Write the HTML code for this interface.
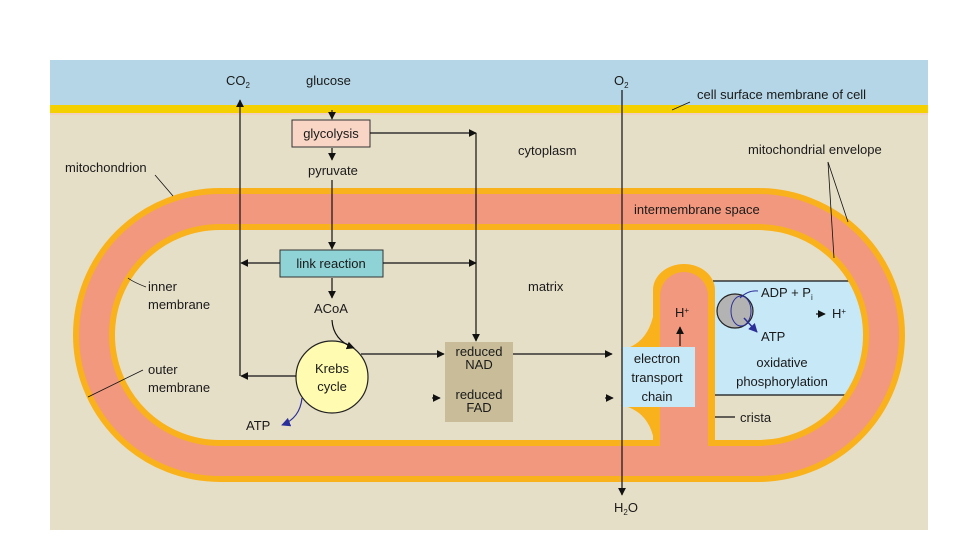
<!DOCTYPE html>
<html><head><meta charset="utf-8"><style>
body{margin:0;background:#fff;}
svg text{font-family:"Liberation Sans",sans-serif;font-size:13px;fill:#1a1a1a;}
</style></head><body>
<svg width="960" height="540" viewBox="0 0 960 540" xmlns="http://www.w3.org/2000/svg">
<defs>
<marker id="a" viewBox="0 0 10 10" refX="9" refY="5" markerWidth="8" markerHeight="8" orient="auto-start-reverse" markerUnits="userSpaceOnUse"><path d="M0,0L10,5L0,10z" fill="#111"/></marker>
<marker id="b" viewBox="0 0 10 10" refX="9" refY="5" markerWidth="9" markerHeight="9" orient="auto" markerUnits="userSpaceOnUse"><path d="M0,0L10,5L0,10z" fill="#2b2f9a"/></marker>
</defs>
<rect x="50" y="60" width="878" height="470" fill="#e6dfc8"/>
<rect x="50" y="60" width="878" height="45" fill="#b4d6e6"/>
<rect x="50" y="105" width="878" height="8" fill="#f5d000"/>
<rect x="50" y="113" width="878" height="2" fill="#f0d0c0"/>
<rect x="713" y="281" width="160" height="114" fill="#c7e8f7"/>
<line x1="713" y1="281" x2="860" y2="281" stroke="#111" stroke-width="1.2"/>
<line x1="713" y1="395" x2="860" y2="395" stroke="#111" stroke-width="1.2"/>
<path d="M220,209 H758 A126,126 0 0 1 758,461 H220 A126,126 0 0 1 220,209 Z" fill="none" stroke="#f9b21c" stroke-width="42"/>
<path d="M220,209 H758 A126,126 0 0 1 758,461 H220 A126,126 0 0 1 220,209 Z" fill="none" stroke="#f2987e" stroke-width="30"/>
<path d="M653,442 V290 A31,26 0 0 1 715,290 V442 Z" fill="#f9b21c"/>
<path d="M620,350 Q648,345 654,312 L690,312 L690,350 Z" fill="#f9b21c"/>
<path d="M620,405 Q648,410 654,440 L690,440 L690,405 Z" fill="#f9b21c"/>
<path d="M660,448 V296 A24,24 0 0 1 708,296 V448 Z" fill="#f2987e"/>
<rect x="622" y="347" width="73" height="60" fill="#c7e8f7"/>
<ellipse cx="735" cy="311" rx="18" ry="17" fill="#b3b3b3" stroke="#222" stroke-width="1.2"/>
<ellipse cx="741" cy="311" rx="10" ry="15" fill="none" stroke="#2b2f9a" stroke-width="1"/>
<path d="M740,298 Q748,290 758,291" fill="none" stroke="#2b2f9a"/>
<path d="M744,318 L757,332" fill="none" stroke="#2b2f9a" stroke-width="1.5" marker-end="url(#b)"/>
<rect x="292" y="120" width="78" height="27" fill="#f9d5c5" stroke="#333"/>
<text x="331" y="138" text-anchor="middle">glycolysis</text>
<rect x="280" y="250" width="103" height="27" fill="#8fd3d6" stroke="#333"/>
<text x="331" y="268" text-anchor="middle">link reaction</text>
<circle cx="332" cy="377" r="36" fill="#fffbb0" stroke="#222" stroke-width="1.2"/>
<text x="332" y="373" text-anchor="middle">Krebs</text>
<text x="332" y="391" text-anchor="middle">cycle</text>
<rect x="445" y="342" width="68" height="80" fill="#c8bd98"/>
<text x="479" y="356" text-anchor="middle">reduced</text>
<text x="479" y="369" text-anchor="middle">NAD</text>
<text x="479" y="399" text-anchor="middle">reduced</text>
<text x="479" y="412" text-anchor="middle">FAD</text>
<g stroke="#111" stroke-width="1.2" fill="none">
<line x1="240" y1="376" x2="240" y2="100" marker-end="url(#a)"/>
<line x1="332" y1="110" x2="332" y2="119" marker-end="url(#a)"/>
<line x1="332" y1="148" x2="332" y2="160" marker-end="url(#a)"/>
<line x1="332" y1="180" x2="332" y2="249" marker-end="url(#a)"/>
<line x1="332" y1="278" x2="332" y2="298" marker-end="url(#a)"/>
<line x1="370" y1="133" x2="476" y2="133" marker-end="url(#a)"/>
<line x1="476" y1="133" x2="476" y2="341" marker-end="url(#a)"/>
<line x1="280" y1="263" x2="241" y2="263" marker-end="url(#a)"/>
<line x1="383" y1="263" x2="476" y2="263" marker-end="url(#a)"/>
<line x1="296" y1="376" x2="241" y2="376" marker-end="url(#a)"/>
<path d="M332,320 Q333,340 354,348" marker-end="url(#a)"/>
<line x1="361" y1="354" x2="444" y2="354" marker-end="url(#a)"/>
<line x1="513" y1="354" x2="612" y2="354" marker-end="url(#a)"/>
<line x1="432" y1="398" x2="440" y2="398" marker-end="url(#a)"/>
<line x1="605" y1="398" x2="613" y2="398" marker-end="url(#a)"/>
<line x1="622" y1="90" x2="622" y2="495" marker-end="url(#a)"/>
<line x1="680" y1="346" x2="680" y2="327" marker-end="url(#a)"/>
<line x1="816" y1="314" x2="825" y2="314" marker-end="url(#a)"/>
<line x1="715" y1="417" x2="735" y2="417"/>
<line x1="672" y1="110" x2="690" y2="102" stroke-width="0.8"/>
<line x1="155" y1="175" x2="173" y2="196" stroke-width="0.8"/>
<line x1="828" y1="162" x2="848" y2="222" stroke-width="0.8"/>
<line x1="828" y1="162" x2="834" y2="258" stroke-width="0.8"/>
<path d="M146,287 Q133,282 128,278" stroke-width="0.8"/>
<line x1="88" y1="397" x2="143" y2="370" stroke-width="0.8"/>
</g>
<path d="M302,398 Q300,418 282,425" fill="none" stroke="#2b2f9a" stroke-width="1.2" marker-end="url(#b)"/>
<text x="226" y="85">CO<tspan font-size="8" dy="3">2</tspan></text>
<text x="306" y="85">glucose</text>
<text x="614" y="85">O<tspan font-size="8" dy="3">2</tspan></text>
<text x="697" y="99">cell surface membrane of cell</text>
<text x="308" y="175">pyruvate</text>
<text x="518" y="155">cytoplasm</text>
<text x="65" y="172">mitochondrion</text>
<text x="748" y="154">mitochondrial envelope</text>
<text x="634" y="214" fill="#3a1a1a">intermembrane space</text>
<text x="148" y="291">inner</text>
<text x="148" y="309">membrane</text>
<text x="528" y="291">matrix</text>
<text x="314" y="313">ACoA</text>
<text x="148" y="374">outer</text>
<text x="148" y="392">membrane</text>
<text x="246" y="430">ATP</text>
<text x="614" y="512">H<tspan font-size="8" dy="3">2</tspan><tspan dy="-3">O</tspan></text>
<text x="675" y="317" fill="#6b1010">H<tspan font-size="8" dy="-4">+</tspan></text>
<text x="761" y="297">ADP + P<tspan font-size="8" dy="3">i</tspan></text>
<text x="761" y="341">ATP</text>
<text x="832" y="318">H<tspan font-size="8" dy="-4">+</tspan></text>
<text x="782" y="367" text-anchor="middle">oxidative</text>
<text x="782" y="386" text-anchor="middle">phosphorylation</text>
<text x="657" y="363" text-anchor="middle">electron</text>
<text x="657" y="382" text-anchor="middle">transport</text>
<text x="657" y="401" text-anchor="middle">chain</text>
<text x="740" y="422">crista</text>
</svg>
</body></html>
